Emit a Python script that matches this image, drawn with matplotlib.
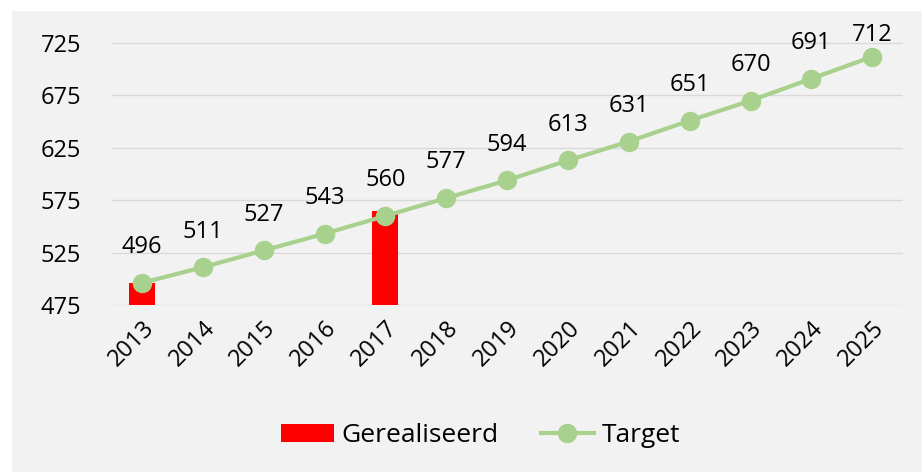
import matplotlib.pyplot as plt
from matplotlib.patches import Rectangle

years = ['2013', '2014', '2015', '2016', '2017', '2018', '2019',
         '2020', '2021', '2022', '2023', '2024', '2025']
gerealiseerd = [496, None, None, None, 565, None, None, None, None, None, None, None, None]
target = [496, 511, 527, 543, 560, 577, 594, 613, 631, 651, 670, 691, 712]

plt.rcParams['font.family'] = ['Open Sans', 'DejaVu Sans']

fig = plt.figure(figsize=(9.22, 4.72), dpi=100)
fig.patch.set_facecolor('white')
fig.patches.append(Rectangle((12 / 922, 0), 1, 1 - 11 / 472, transform=fig.transFigure,
                             facecolor='#f2f2f2', edgecolor='none', zorder=-10))

ax = fig.add_axes([0.121, 0.354, 0.858, 0.588])
ax.set_facecolor('none')

x = list(range(len(years)))
bar_x = [i for i, v in zip(x, gerealiseerd) if v is not None]
bar_v = [v for v in gerealiseerd if v is not None]
ax.bar(bar_x, [v - 475 for v in bar_v], bottom=475, width=0.43, color='#ff0000',
       label='Gerealiseerd', zorder=2)
ax.plot(x, target, color='#a9d18e', linewidth=3, marker='o', markersize=13,
        label='Target', zorder=3)

# labels above the points, kept inside the plot area like Excel does
for i, v in zip(x, target):
    ly = min(v + 34, 733)
    ax.text(i, ly, str(v), ha='center', va='center', fontsize=17, color='#000000')

ax.set_xlim(-0.5, len(years) - 0.5)
ax.set_ylim(475, 740)
ax.set_yticks([475, 525, 575, 625, 675, 725])
ax.set_xticks(x)
ax.set_xticklabels(years, rotation=45, ha='right', rotation_mode='anchor')
ax.tick_params(axis='both', length=0, labelsize=17, colors='#000000')
ax.tick_params(axis='x', pad=8)
ax.tick_params(axis='y', pad=22)
ax.grid(axis='y', color='#d9d9d9', linewidth=1, zorder=0)
ax.set_axisbelow(True)
for s in ax.spines.values():
    s.set_visible(False)

handles, labels = ax.get_legend_handles_labels()
order = [labels.index('Gerealiseerd'), labels.index('Target')]
fig.legend([handles[k] for k in order], [labels[k] for k in order],
           loc='center', bbox_to_anchor=(0.521, 0.077), ncol=2, frameon=False,
           fontsize=19, handlelength=2.0, columnspacing=1.6, handletextpad=0.3)

fig.savefig('out.png', dpi=100)
